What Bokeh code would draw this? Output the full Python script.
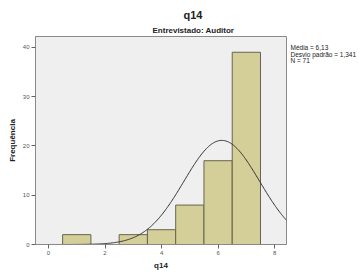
import numpy as np
from bokeh.plotting import figure
from bokeh.models import FixedTicker, Range1d, Title, LinearAxis
from bokeh.embed import file_html
from bokeh.resources import INLINE

bin_centers = [1, 3, 4, 5, 6, 7]
counts = [2, 2, 3, 8, 17, 39]
mean_v = 6.13
sd_v = 1.341
n_v = 71
x_ticks = [0, 2, 4, 6, 8]
y_ticks = [0, 10, 20, 30, 40]
title_main = "q14"
subtitle = "Entrevistado: Auditor"
stats = ["Média = 6,13", "Desvio padrão = 1,341", "N = 71"]

FONT = "Liberation Sans"

p = figure(width=359, height=273, output_backend="svg", toolbar_location=None,
           x_range=Range1d(-0.46, 8.42), y_range=Range1d(0, 42.2),
           min_border_left=35, min_border_top=36, min_border_right=71, min_border_bottom=29)
p.background_fill_color = "#efefef"
p.border_fill_color = "white"
p.outline_line_color = "#8a8a8a"
p.outline_line_width = 1
p.xgrid.visible = False
p.ygrid.visible = False

p.quad(left=[c - 0.5 for c in bin_centers], right=[c + 0.5 for c in bin_centers],
       bottom=0, top=counts, fill_color="#d4cf99", line_color="#66654c", line_width=1)

xs = np.linspace(-0.46, 8.42, 300)
ys = n_v * 1.0 * np.exp(-(xs - mean_v) ** 2 / (2 * sd_v ** 2)) / (sd_v * np.sqrt(2 * np.pi))
p.line(xs, ys, line_color="#333333", line_width=1)

for ax in (p.xaxis, p.yaxis):
    ax.major_label_text_font = FONT
    ax.major_label_text_font_size = "6px"
    ax.major_label_text_color = "#555555"
    ax.axis_label_text_font = FONT
    ax.axis_label_text_font_style = "bold"
    ax.axis_label_text_font_size = "8px"
    ax.axis_label_text_color = "#222222"
    ax.minor_tick_line_color = None
    ax.major_tick_in = 0
    ax.major_tick_out = 4
    ax.major_tick_line_color = "#666666"
    ax.axis_line_color = "#8a8a8a"
    ax.major_label_standoff = 2
    ax.axis_label_standoff = 3

p.xaxis.ticker = FixedTicker(ticks=x_ticks)
p.yaxis.ticker = FixedTicker(ticks=y_ticks)
p.xaxis.axis_label = "q14"
p.yaxis.axis_label = "Frequência"

p.add_layout(Title(text=subtitle, text_font=FONT, text_font_style="bold",
                   text_font_size="8px", align="left", offset=117, standoff=3,
                   text_color="#222222"), "above")
p.add_layout(Title(text=title_main, text_font=FONT, text_font_style="bold",
                   text_font_size="11px", align="left", offset=148, standoff=3,
                   text_color="#222222"), "above")

# statistics block: labels of a bare axis on the right (pixel-scaled range)
p.extra_y_ranges = {"stats": Range1d(0, 208)}
stat_pos = [197, 190.5, 184]
sax = LinearAxis(y_range_name="stats", ticker=FixedTicker(ticks=stat_pos),
                 major_label_overrides={pos: s for pos, s in zip(stat_pos, stats)},
                 axis_line_color=None, major_tick_line_color=None,
                 minor_tick_line_color=None, major_tick_out=0, major_tick_in=0,
                 major_label_standoff=4, major_label_text_font=FONT,
                 major_label_text_font_size="6.5px", major_label_text_color="#222222")
p.add_layout(sax, "right")

open("out.html", "w").write(file_html(p, INLINE))
